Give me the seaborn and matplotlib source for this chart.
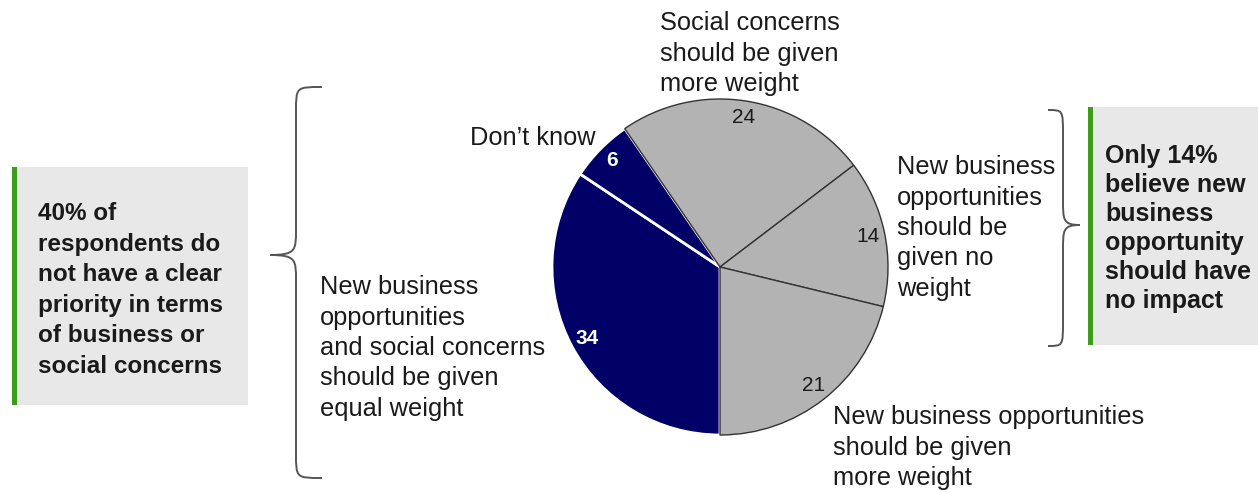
import matplotlib
matplotlib.use("Agg")
import matplotlib.pyplot as plt
import seaborn as sns
from matplotlib.path import Path
from matplotlib.patches import PathPatch, Rectangle

# ---- data ----
categories = [
    "New business opportunities and social concerns should be given equal weight",
    "Don't know",
    "Social concerns should be given more weight",
    "New business opportunities should be given no weight",
    "New business opportunities should be given more weight",
]
values = [34, 6, 24, 14, 21]
slice_colors = ["#000066", "#000066", "#b3b3b3", "#b3b3b3", "#b3b3b3"]
label_colors = ["white", "white", "#1a1a1a", "#1a1a1a", "#1a1a1a"]
label_weights = ["bold", "bold", "normal", "normal", "normal"]

left_note = ["40% of", "respondents do", "not have a clear",
             "priority in terms", "of business or", "social concerns"]
right_note = ["Only 14%", "believe new", "business",
              "opportunity", "should have", "no impact"]

sns.set_theme(style="white")
plt.rcParams['font.family'] = ['Liberation Sans', 'DejaVu Sans']

W, H = 1258, 493
fig = plt.figure(figsize=(W / 100, H / 100), dpi=100)
ax = fig.add_axes([0, 0, 1, 1])

def Y(y):
    return H - y

total = sum(values)
wedges, texts, autotexts = ax.pie(
    values,
    colors=slice_colors,
    startangle=270,
    counterclock=False,
    center=(720, Y(267)),
    radius=168,
    autopct=lambda p: f"{round(p * total / 100)}",
    pctdistance=0.9,
    textprops=dict(fontsize=15),
    wedgeprops=dict(linewidth=1.0),
)
for w, c in zip(wedges, slice_colors):
    if c == "#000066":
        w.set_edgecolor("white")
        w.set_linewidth(2.0)
        w.set_zorder(1)
    else:
        w.set_edgecolor("#333333")
        w.set_linewidth(1.0)
        w.set_zorder(2)
for t, c, fw in zip(autotexts, label_colors, label_weights):
    t.set_color(c)
    t.set_fontweight(fw)
    t.set_zorder(5)

ax.set_xlim(0, W)
ax.set_ylim(0, H)
ax.set_aspect("equal")
ax.axis("off")

FS = 18.3
def block(x, y0, lines, dy, **kw):
    for i, s in enumerate(lines):
        ax.text(x, Y(y0 + i * dy), s, ha="left", va="baseline",
                fontsize=kw.get("fs", FS), fontweight=kw.get("fw", "normal"),
                color=kw.get("color", "#1a1a1a"), zorder=6)

# category labels
block(660, 30, ["Social concerns", "should be given", "more weight"], 30.5)
block(470, 145, ["Don\u2019t know"], 30.5)
block(897, 174, ["New business", "opportunities", "should be", "given no", "weight"], 30.5)
block(320, 294, ["New business", "opportunities", "and social concerns",
                 "should be given", "equal weight"], 30.5)
block(833, 424, ["New business opportunities", "should be given", "more weight"], 30.5)

# note boxes
ax.add_patch(Rectangle((12, Y(405)), 236, 238, facecolor="#e8e8e8", edgecolor="none", zorder=0))
ax.add_patch(Rectangle((12, Y(405)), 5, 238, facecolor="#3c9c1c", edgecolor="none", zorder=1))
block(38, 220, left_note, 30.6, fw="bold", fs=17.5)

ax.add_patch(Rectangle((1088, Y(345)), 170, 238, facecolor="#e8e8e8", edgecolor="none", zorder=0))
ax.add_patch(Rectangle((1088, Y(345)), 5, 238, facecolor="#3c9c1c", edgecolor="none", zorder=1))
block(1105, 163, right_note, 29, fw="bold", fs=18)

# braces
def brace(x_end, x_mid, x_tip, y_top, y_tip, y_bot):
    verts = [
        (x_end, Y(y_top)),
        (x_mid, Y(y_top)), (x_mid, Y(y_top)), (x_mid, Y(y_top + 25)),
        (x_mid, Y(y_tip - 25)),
        (x_mid, Y(y_tip - 5)), (x_mid, Y(y_tip)), (x_tip, Y(y_tip)),
        (x_mid, Y(y_tip)), (x_mid, Y(y_tip + 5)), (x_mid, Y(y_tip + 25)),
        (x_mid, Y(y_bot - 25)),
        (x_mid, Y(y_bot)), (x_mid, Y(y_bot)), (x_end, Y(y_bot)),
    ]
    codes = [Path.MOVETO,
             Path.CURVE4, Path.CURVE4, Path.CURVE4,
             Path.LINETO,
             Path.CURVE4, Path.CURVE4, Path.CURVE4,
             Path.CURVE4, Path.CURVE4, Path.CURVE4,
             Path.LINETO,
             Path.CURVE4, Path.CURVE4, Path.CURVE4]
    ax.add_patch(PathPatch(Path(verts, codes), facecolor="none",
                           edgecolor="#555555", linewidth=1.4, zorder=3))

brace(322, 296, 270, 87, 255, 478)
brace(1048, 1063, 1080, 110, 225, 346)

fig.savefig("out.png", dpi=100)
